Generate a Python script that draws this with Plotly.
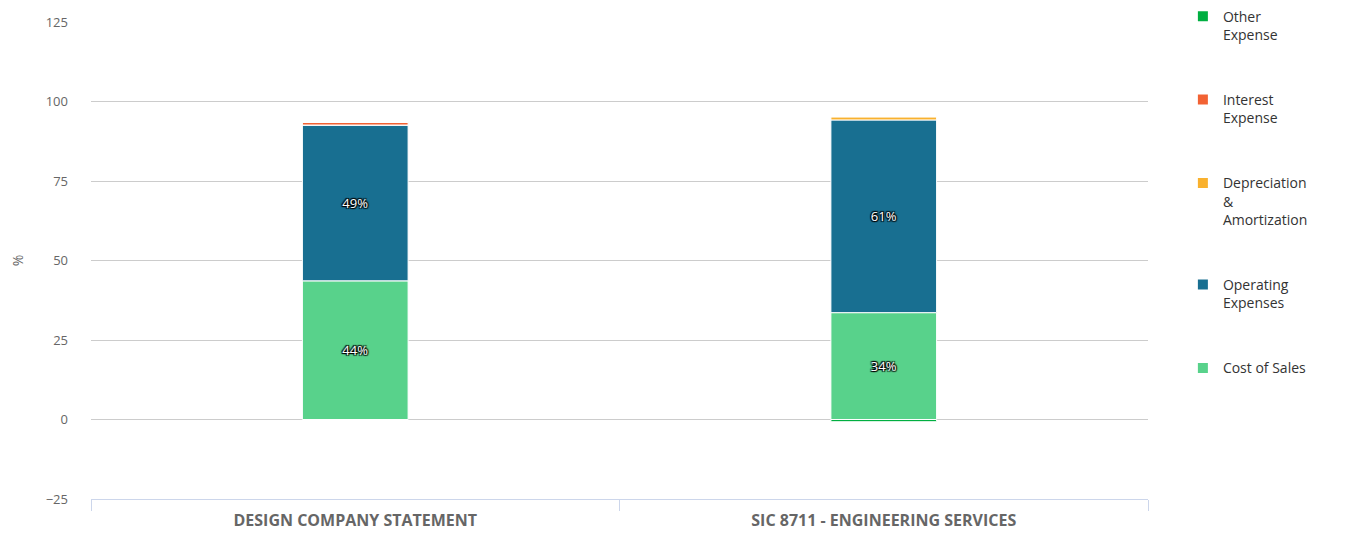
import plotly.graph_objects as go

categories = ["DESIGN COMPANY STATEMENT", "SIC 8711 - ENGINEERING SERVICES"]
series_names = ["Cost of Sales", "Operating Expenses", "Depreciation & Amortization", "Interest Expense", "Other Expense"]
legend_labels = ["Cost of Sales", "Operating<br>Expenses", "Depreciation<br>&<br>Amortization", "Interest<br>Expense", "Other<br>Expense"]
cost_of_sales = [43.6, 33.6]
operating_expenses = [49.0, 60.6]
depreciation = [0.0, 1.0]
interest_expense = [0.8, 0.0]
other_expense = [0.0, -0.7]
colors = ["#58d28b", "#186f91", "#f9b12e", "#f26233", "#00af41"]
y_ticks = [-25, 0, 25, 50, 75, 100, 125]

values = [cost_of_sales, operating_expenses, depreciation, interest_expense, other_expense]

font_family = "Open Sans, DejaVu Sans, sans-serif"
fig = go.Figure()
n = len(series_names)
for i, (name, lab, vals, col) in enumerate(zip(series_names, legend_labels, values, colors)):
    texts = [f"{round(v)}%" if abs(v) >= 5 else "" for v in vals]
    fig.add_trace(go.Bar(
        x=categories, y=vals, name=lab, legendgroup=name, legendrank=n - i,
        marker=dict(color=col, line=dict(color="#ffffff", width=1)),
        width=0.2,
        text=texts, textposition="inside", insidetextanchor="middle",
        textfont=dict(color="#ffffff", size=13, family=font_family,
                      shadow="1px 1px 1px #000, -1px -1px 1px #000, 1px -1px 1px #000, -1px 1px 1px #000"),
        hoverinfo="x+y+name",
    ))

fig.update_layout(
    width=1348, height=527,
    barmode="relative",
    paper_bgcolor="#ffffff", plot_bgcolor="#ffffff",
    margin=dict(l=83, r=208, t=14, b=36, autoexpand=False),
    font=dict(family=font_family, color="#666666"),
    showlegend=True,
    legend=dict(
        x=1.033, xanchor="left", y=1.045, yanchor="top",
        traceorder="grouped", tracegroupgap=44, valign="top",
        maxheight=520,
        font=dict(size=14, color="#333333", family=font_family),
        itemsizing="constant",
    ),
    xaxis=dict(
        type="category", range=[-0.5, 1.5], automargin=False,
        showline=True, linecolor="#ccd6eb", linewidth=1,
        ticks="outside", ticklen=11, tickcolor="#ccd6eb", tickson="boundaries",
        showgrid=False, zeroline=False,
        ticklabelstandoff=7,
        tickfont=dict(size=16, color="#666666", family=font_family, weight="bold"),
    ),
    yaxis=dict(
        range=[-25, 125], tickvals=y_ticks, automargin=False,
        showgrid=True, gridcolor="#cccccc", gridwidth=1,
        zeroline=False, showline=False,
        tickfont=dict(size=13, color="#666666"),
        ticklabelstandoff=22,
        title=dict(text="%", font=dict(size=14, color="#666666"), standoff=30),
    ),
)

fig.write_html("out.html")
